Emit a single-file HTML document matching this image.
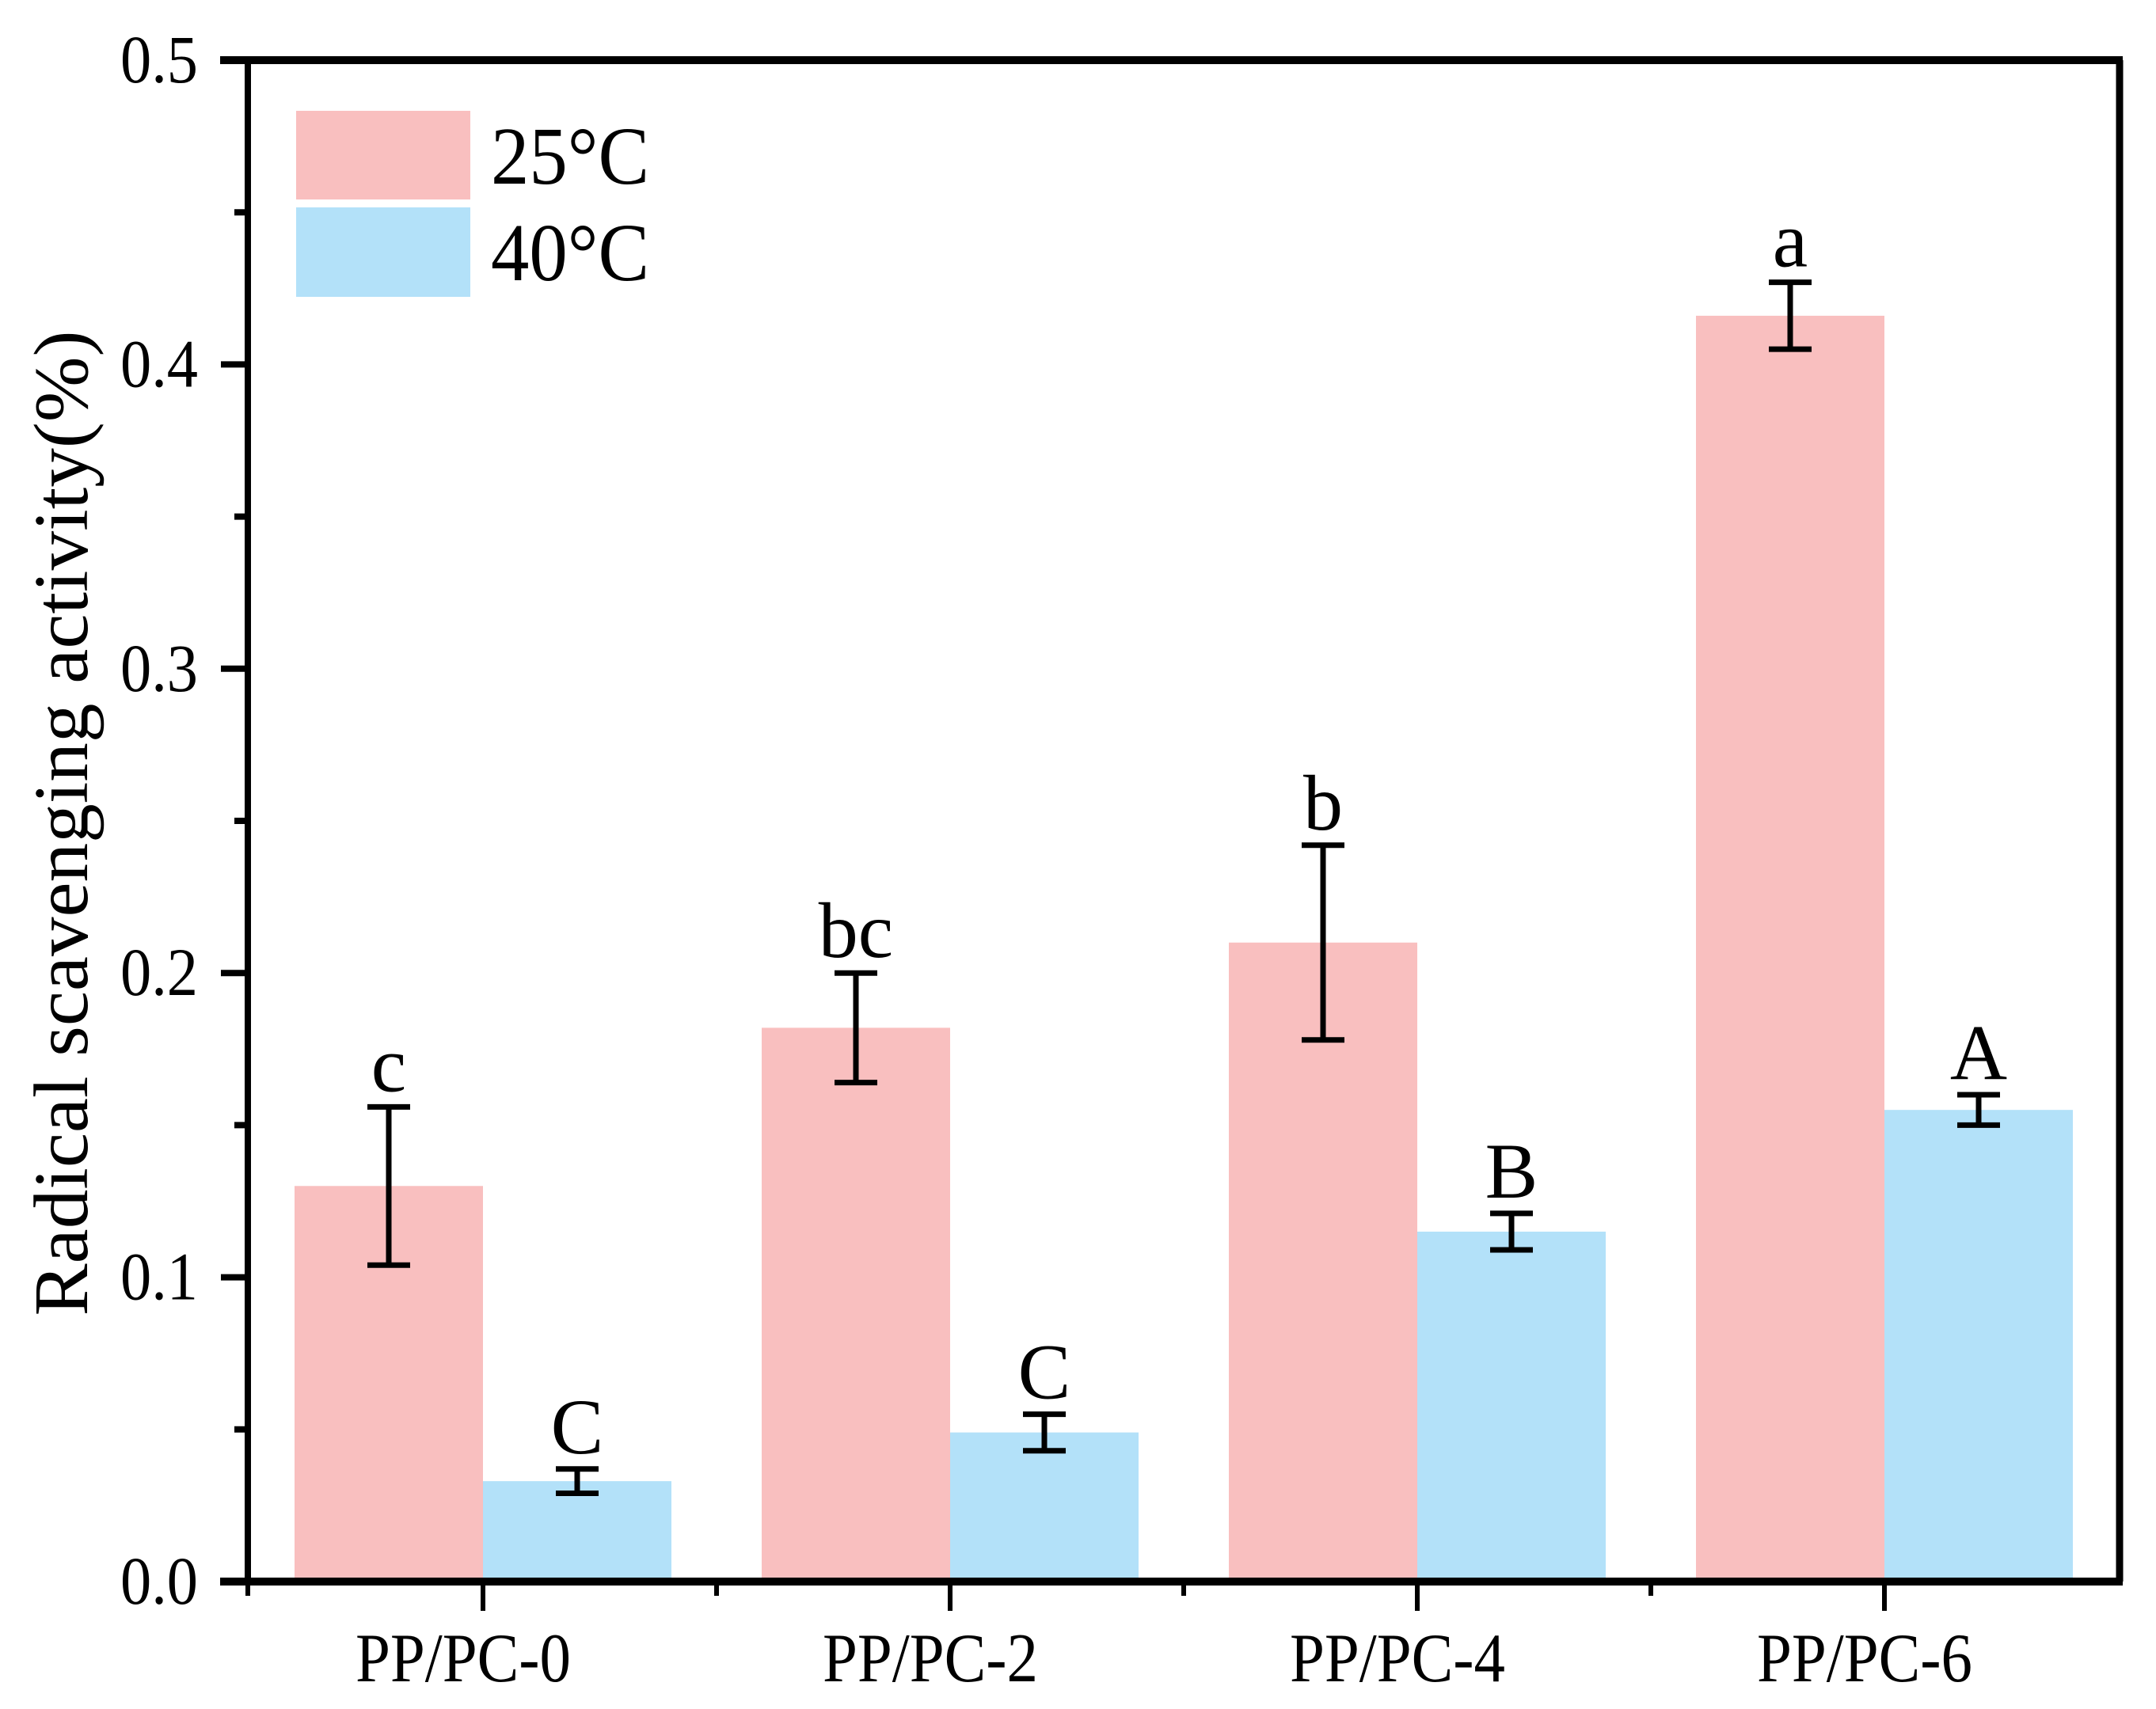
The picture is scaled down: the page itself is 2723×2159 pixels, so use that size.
<!DOCTYPE html>
<html><head><meta charset="utf-8"><style>
html,body{margin:0;padding:0;background:#fff}
svg{display:block;font-family:"Liberation Serif",serif}
</style></head><body>
<svg id="chart" width="2723" height="2159" viewBox="0 0 2723 2159" xmlns="http://www.w3.org/2000/svg">
<g id="bars"></g>
<g id="axes"></g>
<g id="legend">
  <rect x="374" y="140" width="220" height="112" fill="#f9bfbf"/>
  <rect x="374" y="262" width="220" height="113" fill="#b3e1f9"/>
  <text x="620" y="232" font-size="104" textLength="200" lengthAdjust="spacingAndGlyphs">25°C</text>
  <text x="620" y="354" font-size="104" textLength="200" lengthAdjust="spacingAndGlyphs">40°C</text>
</g>
<text transform="translate(110,1040) rotate(-90)" text-anchor="middle" font-size="98" textLength="1245" lengthAdjust="spacingAndGlyphs">Radical scavenging activity(%)</text>
</svg>
<script>
const categories = ["PP/PC-0","PP/PC-2","PP/PC-4","PP/PC-6"];
const values25 = [0.130, 0.182, 0.210, 0.416];
const errors25 = [0.026, 0.018, 0.032, 0.011];
const letters25 = ["c","bc","b","a"];
const values40 = [0.033, 0.049, 0.115, 0.155];
const errors40 = [0.004, 0.006, 0.006, 0.005];
const letters40 = ["C","C","B","A"];
const yTicks = [0.0, 0.1, 0.2, 0.3, 0.4, 0.5];
const yTickLabels = ["0.0","0.1","0.2","0.3","0.4","0.5"];

const NS = "http://www.w3.org/2000/svg";
const X0 = 313, X1 = 2677, Y0 = 1998, Y1 = 76;
const GROUP_START = 372, GROUP_W = 590, BAR_W = 238;
function y(v){ return Y0 - (v - 0) / 0.5 * (Y0 - Y1); }
function xBar(i, s){ return GROUP_START + i * GROUP_W + s * BAR_W; }
function mk(tag, attrs, parent){ const e = document.createElementNS(NS, tag); for (const k in attrs) e.setAttribute(k, attrs[k]); parent.appendChild(e); return e; }

const bars = document.getElementById('bars');
const axes = document.getElementById('axes');
const series = [
  {vals: values25, errs: errors25, lets: letters25, color: "#f9bfbf", key: "25c"},
  {vals: values40, errs: errors40, lets: letters40, color: "#b3e1f9", key: "40c"}
];
series.forEach((s, si) => {
  categories.forEach((c, i) => {
    const x = xBar(i, si);
    const r = mk('rect', {x: x, y: y(s.vals[i]), width: BAR_W, height: Y0 - y(s.vals[i]), fill: s.color}, bars);
    
    
    const cx = x + BAR_W / 2;
    const top = y(s.vals[i] + s.errs[i]), bot = y(s.vals[i] - s.errs[i]);
    const eb = mk('path', {d: `M${cx},${top}V${bot}M${cx-27},${top}H${cx+27}M${cx-27},${bot}H${cx+27}`, stroke: "#000", "stroke-width": 7, fill: "none"}, bars);
    
    
    const t = mk('text', {x: cx, y: top - 20, "text-anchor": "middle", "font-size": 100}, bars);
    t.textContent = s.lets[i];
    
    
  });
});

const frame = mk('path', {d: `M${X0},${Y0}V${Y1}`, stroke: "#000", "stroke-width": 8, fill: "none"}, axes);


const topL = mk('path', {d: `M${X0-35},${Y1}H${X1+4}`, stroke: "#000", "stroke-width": 10, fill: "none"}, axes);


const rightL = mk('path', {d: `M${X1},${Y1}V${Y0}`, stroke: "#000", "stroke-width": 9, fill: "none"}, axes);


const botL = mk('path', {d: `M${X0-35},${Y0}H${X1+4}`, stroke: "#000", "stroke-width": 10, fill: "none"}, axes);



yTicks.forEach((v, i) => {
  const tk = mk('path', {d: `M${X0-34},${y(v)}H${X0}`, stroke: "#000", "stroke-width": 8}, axes);
  
  
  const t = mk('text', {x: 250, y: y(v) + 28, "text-anchor": "end", "font-size": 86, textLength: 98, lengthAdjust: "spacingAndGlyphs"}, axes);
  t.textContent = yTickLabels[i];
  
  
  if (i < yTicks.length - 1) {
    const m = mk('path', {d: `M${X0-17},${y(v + 0.05)}H${X0}`, stroke: "#000", "stroke-width": 8}, axes);
    
    
  }
});
categories.forEach((c, i) => {
  const cx = GROUP_START + i * GROUP_W + BAR_W;
  const tk = mk('path', {d: `M${cx},${Y0}V${Y0+37}`, stroke: "#000", "stroke-width": 6}, axes);
  
  
  const mx = cx + GROUP_W / 2;
  if (i < categories.length - 1) {
    const m = mk('path', {d: `M${mx},${Y0}V${Y0+18}`, stroke: "#000", "stroke-width": 6}, axes);
    
    
  }
  const t = mk('text', {x: cx - 25, y: 2124, "text-anchor": "middle", "font-size": 88, textLength: 272, lengthAdjust: "spacingAndGlyphs"}, axes);
  t.textContent = c;
  
  
});
const m0 = mk('path', {d: `M${X0},${Y0}V${Y0+18}`, stroke: "#000", "stroke-width": 6}, axes);


</script>
</body></html>
